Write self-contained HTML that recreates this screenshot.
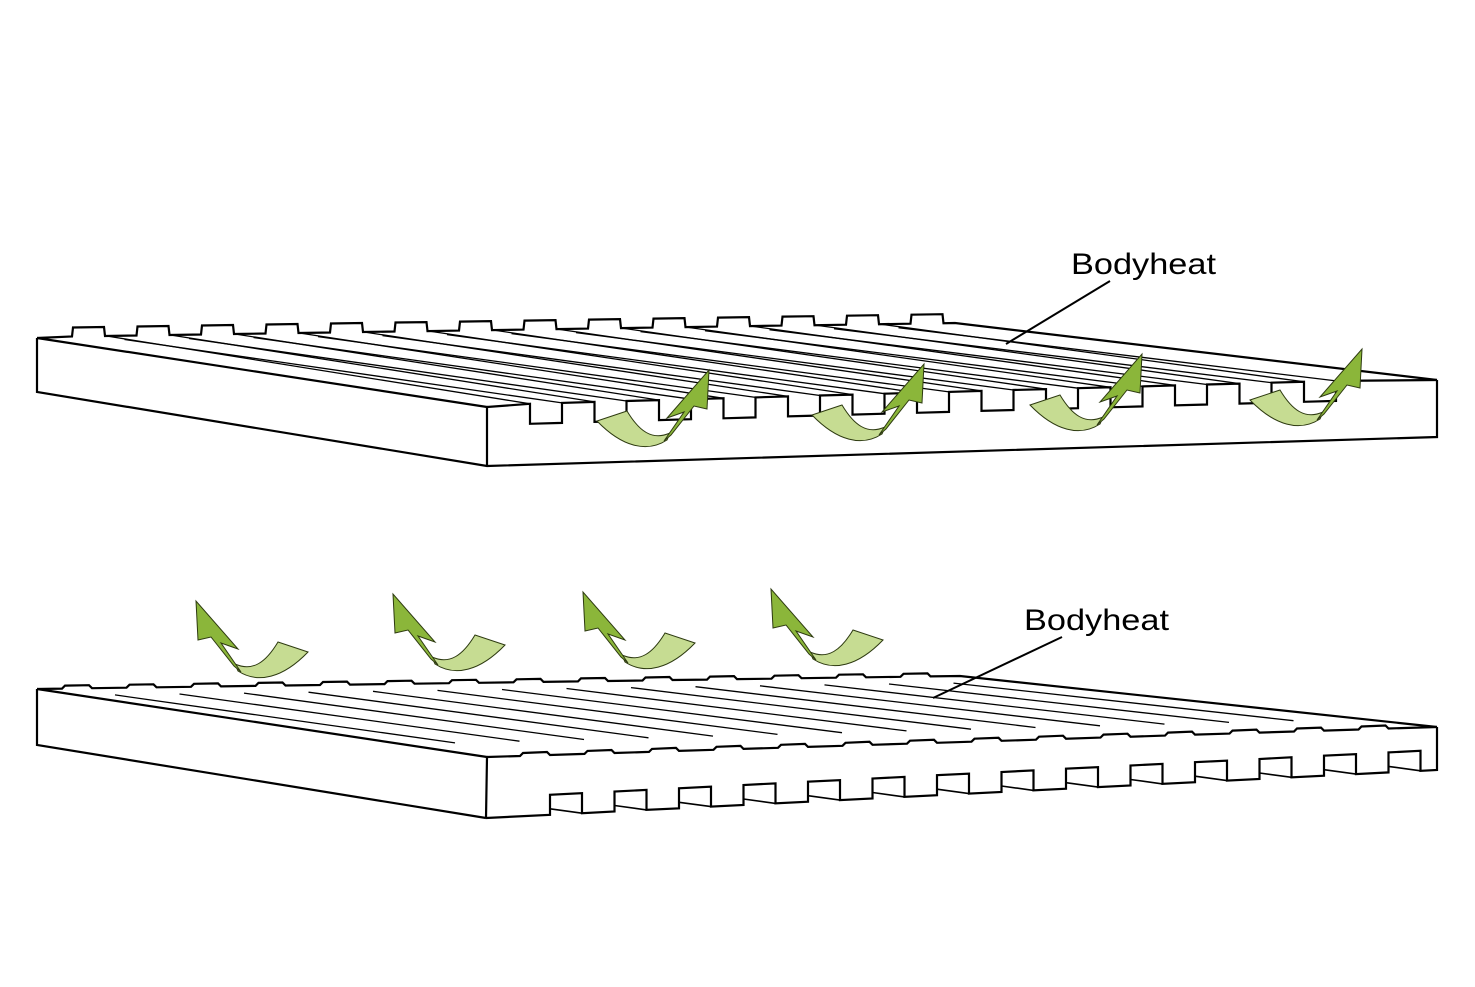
<!DOCTYPE html>
<html><head><meta charset="utf-8"><style>
html,body{margin:0;padding:0;background:#fff;}
svg{display:block;}
</style></head><body>
<svg id="s" width="1475" height="987" viewBox="0 0 1475 987" xmlns="http://www.w3.org/2000/svg">
<defs>
<g id="arr">
<path d="M0,0 L30,-10 C42,10 55,20 73,12 L70,19 C50,32 25,26 0,0 Z" fill="#c6dc92" stroke="#2d3a10" stroke-width="1"/>
<path d="M67,20 L87,-9 L70,-3 L112,-51 L110,-12 L97,-15 L74,14 Z" fill="#8bb63a" stroke="#2d3a10" stroke-width="1"/>
</g>
</defs>
<g id="top" fill="none" stroke="#000" stroke-width="2.2" stroke-linejoin="miter"></g>
<g id="bot" fill="none" stroke="#000" stroke-width="2.2" stroke-linejoin="miter"></g>
<use href="#arr" transform="translate(597,421)"/>
<use href="#arr" transform="translate(812,415)"/>
<use href="#arr" transform="translate(1030,405)"/>
<use href="#arr" transform="translate(1250,400)"/>
<use href="#arr" transform="translate(308,652) scale(-1,1)"/>
<use href="#arr" transform="translate(505,645) scale(-1,1)"/>
<use href="#arr" transform="translate(695,643) scale(-1,1)"/>
<use href="#arr" transform="translate(883,640) scale(-1,1)"/>
<text x="1071" y="274" font-family="Liberation Sans, sans-serif" font-size="30" textLength="145" lengthAdjust="spacingAndGlyphs">Bodyheat</text>
<line x1="1110" y1="281" x2="1006" y2="344" stroke="#000" stroke-width="2"/>
<text x="1024" y="630" font-family="Liberation Sans, sans-serif" font-size="30" textLength="145" lengthAdjust="spacingAndGlyphs">Bodyheat</text>
<line x1="1062" y1="637" x2="933" y2="698" stroke="#000" stroke-width="2"/>
</svg>
<script>
var NS="http://www.w3.org/2000/svg";
function add(g,d,w){var p=document.createElementNS(NS,"path");p.setAttribute("d",d);if(w)p.setAttribute("stroke-width",w);document.getElementById(g).appendChild(p);}
function yAt(x0,y0,x1,y1,x){return y0+(y1-y0)*(x-x0)/(x1-x0);}
// ---- TOP SLAB ----
add("top","M37,338 L37,392 L487,466 L1437,437 L1437,380");
add("top","M37,338 L487,407 L487,466");
var d="M37,338";var teeth=[];
for(var i=0;i<14;i++){var tx=72+i*64.5;teeth.push(tx);
 var yb=yAt(37,337,955,323,tx), ye=yAt(37,337,955,323,tx+32);
 d+=" L"+tx+","+yb.toFixed(1)+" L"+(tx+1)+","+(yb-9).toFixed(1)+" L"+(tx+32)+","+(ye-9).toFixed(1)+" L"+(tx+33)+","+ye.toFixed(1);}
d+=" L955,323 L1437,380";add("top",d);
d="M487,407";var gx=[];
for(var i=0;i<13;i++){var x=530+i*64.5;gx.push(x);
 var y1=yAt(487,405,1437,378,x),y2=yAt(487,405,1437,378,x+32);
 d+=" L"+x+","+y1.toFixed(1)+" L"+x+","+(y1+20).toFixed(1)+" L"+(x+32)+","+(y2+20).toFixed(1)+" L"+(x+32)+","+y2.toFixed(1);}
d+=" L1437,380";add("top",d);
for(var i=0;i<13;i++){
 var tx=teeth[i]+34, yb=yAt(37,337,955,323,tx);
 var fx=gx[i], fy=yAt(487,405,1437,378,fx);
 add("top","M"+tx+","+yb.toFixed(1)+" L"+fx+","+fy.toFixed(1),1.3);
 var tx2=teeth[i]+64.5-2, yb2=yAt(37,337,955,323,tx2);
 var fx2=gx[i]+32, fy2=yAt(487,405,1437,378,fx2);
 add("top","M"+(tx2-10)+","+(yb2+4).toFixed(1)+" L"+fx2+","+fy2.toFixed(1),1.3);
}
// ---- BOTTOM SLAB ----
add("bot","M37,689 L37,745 L486,818");
add("bot","M37,689 L487,757 L486,818");
d="M486,818";
for(var i=0;i<14;i++){var x=550+i*64.5;
 var y1=yAt(486,818,1437,770,x),y2=yAt(486,818,1437,770,x+32);
 d+=" L"+x+","+y1.toFixed(1)+" L"+x+","+(y1-20).toFixed(1)+" L"+(x+32)+","+(y2-20).toFixed(1)+" L"+(x+32)+","+y2.toFixed(1);
 add("bot","M"+x+","+(y1-6).toFixed(1)+" L"+(x+32)+","+(y2).toFixed(1),1.6);}
d+=" L1437,770 L1437,727";add("bot",d);
d="M37,689";
for(var i=0;i<14;i++){var x=62+i*64.5;var y1=yAt(37,689,960,676,x),y2=yAt(37,689,960,676,x+30);
 d+=" L"+x+","+y1.toFixed(1)+" L"+(x+3)+","+(y1-3).toFixed(1)+" L"+(x+27)+","+(y2-3).toFixed(1)+" L"+(x+30)+","+y2.toFixed(1);}
d+=" L960,676 L1437,727";add("bot",d);
d="M487,757";
for(var i=0;i<14;i++){var x=520+i*64.5;var y1=yAt(487,757,1437,727,x),y2=yAt(487,757,1437,727,x+30);
 d+=" L"+x+","+y1.toFixed(1)+" L"+(x+3)+","+(y1-3).toFixed(1)+" L"+(x+27)+","+(y2-3).toFixed(1)+" L"+(x+30)+","+y2.toFixed(1);}
d+=" L1437,727";add("bot",d);
for(var i=0;i<14;i++){var bx=115+i*64.5, by=yAt(37,689,960,676,bx)+7;
 var ex=bx+340, ey=by+48-i*0.8;
 add("bot","M"+bx+","+by.toFixed(1)+" L"+ex+","+ey.toFixed(1),1.3);}
</script>
</body></html>
